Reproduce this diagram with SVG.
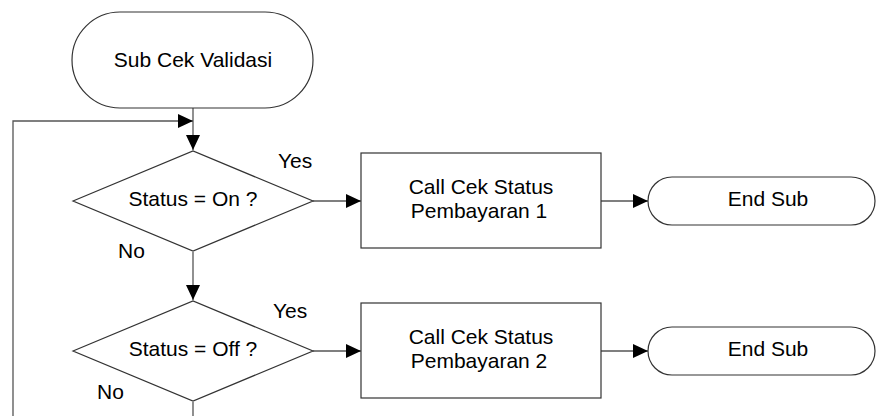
<svg xmlns="http://www.w3.org/2000/svg" width="877" height="416" viewBox="0 0 877 416">
<defs>
<style>
.shape{fill:#fff;stroke:#333;stroke-width:1.2}
.conn{fill:none;stroke:#555;stroke-width:1.3}
text{font-family:"Liberation Sans",Arial,sans-serif;font-size:21px;fill:#000}
.c{text-anchor:middle}
</style>
<marker id="arr" markerWidth="15" markerHeight="14" refX="15" refY="7" orient="auto" markerUnits="userSpaceOnUse">
<path d="M0,0 L15,7 L0,14 Z" fill="#000"/>
</marker>
</defs>
<rect width="877" height="416" fill="#fff"/>
<g id="connectors">
<path class="conn" d="M193,108 V150" marker-end="url(#arr)"/>
<path class="conn" d="M193,402 V440 H13 V121 H193" marker-end="url(#arr)"/>
<path class="conn" d="M193,252 V300" marker-end="url(#arr)"/>
<path class="conn" d="M313,201 H361" marker-end="url(#arr)"/>
<path class="conn" d="M601,201 H648" marker-end="url(#arr)"/>
<path class="conn" d="M313,351 H361" marker-end="url(#arr)"/>
<path class="conn" d="M601,351 H648" marker-end="url(#arr)"/>
<text x="278" y="168">Yes</text>
<text x="118" y="258">No</text>
<text x="273" y="318">Yes</text>
<text x="97" y="399">No</text>
</g>
<g id="start">
<rect class="shape" x="72" y="12" width="241" height="96" rx="48" ry="48"/>
<text class="c" x="193" y="67">Sub Cek Validasi</text>
</g>
<g id="decision1">
<polygon class="shape" points="73,201 193,151 313,201 193,251"/>
<text class="c" x="193" y="206">Status = On ?</text>
</g>
<g id="decision2">
<polygon class="shape" points="73,351 193,301 313,351 193,401"/>
<text class="c" x="193" y="356">Status = Off ?</text>
</g>
<g id="process1">
<rect class="shape" x="361" y="153" width="240" height="95"/>
<text class="c" x="481" y="194">Call Cek Status</text>
<text class="c" x="479" y="218">Pembayaran 1</text>
</g>
<g id="process2">
<rect class="shape" x="361" y="303" width="240" height="95"/>
<text class="c" x="481" y="344">Call Cek Status</text>
<text class="c" x="479" y="368">Pembayaran 2</text>
</g>
<g id="end1">
<rect class="shape" x="648" y="177" width="227" height="48" rx="24" ry="24"/>
<text class="c" x="768" y="206">End Sub</text>
</g>
<g id="end2">
<rect class="shape" x="648" y="327" width="227" height="48" rx="24" ry="24"/>
<text class="c" x="768" y="356">End Sub</text>
</g>
</svg>
